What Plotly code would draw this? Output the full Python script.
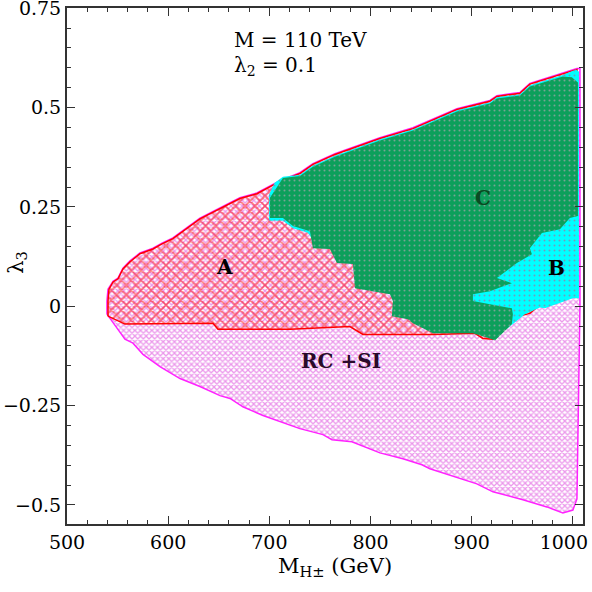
import plotly.graph_objects as go

# outer allowed region (RC + SI), magenta boundary
rcsi_x = [539.5, 539.5, 540.5, 545.5, 550.4, 555.3, 562.3, 572.1, 585, 593.9, 604.7, 631.4, 670.9,
          687.7, 710.5, 730.2, 743.1, 764.8, 809.3, 841.9, 885.4, 918, 924.9, 947.6, 957.5, 990.1,
          1004, 1007, 1007, 1007, 1004, 1000, 990.1, 974.3, 950.6, 921, 905.1, 876.5, 858.7, 850.8,
          832, 809.3, 781.6, 761.9, 753, 730.2, 703.6, 693.7, 673.9, 661.1, 651.2, 631.4, 611.7,
          591.9, 575.1, 565.2, 557.3, 549.4, 542.5, 539.5]
rcsi_y = [-0.020, 0.013, 0.043, 0.063, 0.071, 0.096, 0.114, 0.134, 0.146, 0.159, 0.172, 0.222, 0.273,
          0.285, 0.316, 0.336, 0.359, 0.384, 0.424, 0.449, 0.497, 0.518, 0.530, 0.538, 0.561, 0.588,
          0.598, 0.598, 0.3, 0.0, -0.485, -0.513, -0.520, -0.505, -0.487, -0.467, -0.447, -0.424,
          -0.409, -0.399, -0.384, -0.369, -0.341, -0.336, -0.323, -0.308, -0.283, -0.275, -0.253,
          -0.232, -0.225, -0.202, -0.182, -0.152, -0.121, -0.093, -0.083, -0.056, -0.030, -0.020]

# region A, red cross-hatch
a_x = [540.5, 540.5, 541.5, 545.5, 550.4, 555.3, 562.3, 572.1, 585, 593.9, 604.7, 631.4, 670.9,
       687.7, 710.5, 730.2, 743.1, 764.8, 809.3, 841.9, 885.4, 918, 924.9, 947.6, 957.5, 990.1,
       1004, 1004, 1004, 975, 957.5, 947.6, 937.7, 925, 921, 911.1, 903.2, 861.7, 792.5, 779.6,
       720.4, 649.2, 644.3, 557.3, 540.5]
a_y = [-0.025, 0.013, 0.043, 0.061, 0.069, 0.094, 0.112, 0.132, 0.144, 0.157, 0.170, 0.220, 0.271,
       0.283, 0.314, 0.334, 0.357, 0.382, 0.422, 0.447, 0.495, 0.516, 0.528, 0.536, 0.559, 0.586,
       0.596, 0.3, 0.05, 0.02, -0.018, -0.024, -0.040, -0.070, -0.083, -0.081, -0.068, -0.071,
       -0.071, -0.051, -0.058, -0.058, -0.043, -0.045, -0.025]

# region B, cyan
b_x = [921, 937.7, 952.6, 967.4, 972.3, 987.2, 1000, 1006, 1006, 1006, 1003, 990.1, 957.5, 947.6,
       924.9, 918, 885.4, 841.9, 809.3, 764.8, 743.1, 730.2, 713.4, 705, 699.6, 699.6, 713.4, 723.3,
       738, 745, 800, 880, 921]
b_y = [-0.081, -0.051, -0.020, -0.003, -0.005, 0.008, 0.020, 0.020, 0.3, 0.59, 0.596, 0.582, 0.556,
       0.533, 0.526, 0.513, 0.493, 0.445, 0.420, 0.379, 0.354, 0.331, 0.326, 0.31, 0.28, 0.215,
       0.215, 0.196, 0.185, 0.16, 0.1, 0.0, -0.081]

# region C, green
c_x = [713.4, 730.2, 743.1, 764.8, 809.3, 841.9, 885.4, 918, 924.9, 947.6, 957.5, 990.1, 999,
       1005, 1005, 1005, 997, 987.2, 969.4, 957.5, 959.5, 944.7, 924.9, 939.7, 918, 901.2, 901.2,
       939.7, 940.7, 939.7, 922.9, 918, 901.2, 861.7, 841.9, 837, 821.1, 822.1, 819.2, 784.6,
       782.6, 766.8, 759.9, 743.1, 740.1, 723.3, 713.4, 700.6, 700.6, 713.4]
c_y = [0.323, 0.328, 0.351, 0.376, 0.417, 0.442, 0.490, 0.510, 0.523, 0.530, 0.553, 0.578, 0.576,
       0.563, 0.247, 0.227, 0.222, 0.194, 0.184, 0.146, 0.131, 0.109, 0.071, 0.058, 0.038, 0.030,
       0.013, -0.005, -0.020, -0.045, -0.086, -0.081, -0.068, -0.068, -0.043, -0.033, -0.025,
       0.013, 0.030, 0.045, 0.106, 0.109, 0.144, 0.146, 0.189, 0.202, 0.222, 0.222, 0.273, 0.323]

region_labels = ["A", "B", "C", "RC +SI"]
label_x = [656, 984, 911, 771]
label_y = [0.100, 0.096, 0.273, -0.139]
label_colors = ["black", "black", "#0b4a22", "#2a0a2a"]

x_ticks = [500, 600, 700, 800, 900, 1000]
# last label padded with invisible text so it sits inside the frame like the original
x_ticktext = ["500", "600", "700", "800", "900",
              "1000<span style='color:rgba(0,0,0,0)'>0.</span>"]
y_ticks = [-0.5, -0.25, 0, 0.25, 0.5, 0.75]
y_ticktext = ["\u22120.5", "\u22120.25", "0", "0.25", "0.5", "0.75"]

serif = "DejaVu Serif"

fig = go.Figure()

fig.add_trace(go.Scatter(
    x=rcsi_x, y=rcsi_y, mode="lines", fill="toself",
    line=dict(color="#ff22ff", width=1.5),
    fillcolor="rgba(0,0,0,0)",
    fillpattern=dict(shape="x", size=4, solidity=0.55, fgcolor="#d830d8",
                     bgcolor="rgba(0,0,0,0)"),
    showlegend=False, hoverinfo="skip"))

fig.add_trace(go.Scatter(
    x=a_x, y=a_y, mode="lines", fill="toself",
    line=dict(color="red", width=1.5),
    fillcolor="rgba(0,0,0,0)",
    fillpattern=dict(shape="x", size=7, solidity=0.45, fgcolor="red",
                     bgcolor="rgba(0,0,0,0)"),
    showlegend=False, hoverinfo="skip"))

fig.add_trace(go.Scatter(
    x=b_x, y=b_y, mode="lines", fill="toself",
    line=dict(width=0),
    fillcolor="#00ffff",
    fillpattern=dict(shape=".", size=5, solidity=0.12, fgcolor="#e03a7a",
                     bgcolor="#00ffff", fillmode="overlay"),
    showlegend=False, hoverinfo="skip"))

fig.add_trace(go.Scatter(
    x=c_x, y=c_y, mode="lines", fill="toself",
    line=dict(width=0),
    fillcolor="#0d9f5b",
    fillpattern=dict(shape=".", size=5, solidity=0.12, fgcolor="#e8a8d0",
                     bgcolor="#0d9f5b", fillmode="overlay"),
    showlegend=False, hoverinfo="skip"))

for txt, lx, ly, col in zip(region_labels, label_x, label_y, label_colors):
    fig.add_annotation(x=lx, y=ly, text="<b>" + txt + "</b>", showarrow=False,
                       font=dict(family=serif, size=20, color=col))

fig.add_annotation(x=663, y=0.669, text="M = 110 TeV", showarrow=False, xanchor="left",
                   font=dict(family=serif, size=20, color="black"))
fig.add_annotation(x=663, y=0.604, text="λ<sub>2</sub> = 0.1", showarrow=False, xanchor="left",
                   font=dict(family=serif, size=20, color="black"))

# axis titles as paper annotations so the plot area keeps its size
fig.add_annotation(x=0.519, y=-0.083, xref="paper", yref="paper",
                   xanchor="center", yanchor="middle",
                   text="M<sub>H±</sub> (GeV)", showarrow=False,
                   font=dict(family=serif, size=21, color="black"))
fig.add_annotation(x=-0.097, y=0.508, xref="paper", yref="paper",
                   xanchor="center", yanchor="middle",
                   text="λ<sub>3</sub>", showarrow=False, textangle=-90,
                   font=dict(family=serif, size=21, color="black"))

axis_common = dict(
    showline=True, linecolor="#333", linewidth=2, mirror="allticks",
    ticks="inside", ticklen=8, tickwidth=1, tickcolor="#333",
    showgrid=False, zeroline=False, automargin=False,
    tickfont=dict(family=serif, size=19, color="black"),
)

fig.update_xaxes(range=[500, 1010], tickvals=x_ticks, ticktext=x_ticktext,
                 ticklabeloverflow="allow",
                 minor=dict(dtick=20, tick0=500, ticks="inside", ticklen=4, tickcolor="#333"),
                 **axis_common)
fig.update_yaxes(range=[-0.548, 0.7505], tickvals=y_ticks, ticktext=y_ticktext,
                 ticklabeloverflow="allow",
                 minor=dict(dtick=0.05, tick0=0, ticks="inside", ticklen=4, tickcolor="#333"),
                 **axis_common)

fig.update_layout(
    width=592, height=592,
    margin=dict(l=67, r=9, t=8, b=68),
    plot_bgcolor="white", paper_bgcolor="white",
)

fig.write_html("out.html", config={"displayModeBar": False},
               post_script="document.body.style.margin='0';")
